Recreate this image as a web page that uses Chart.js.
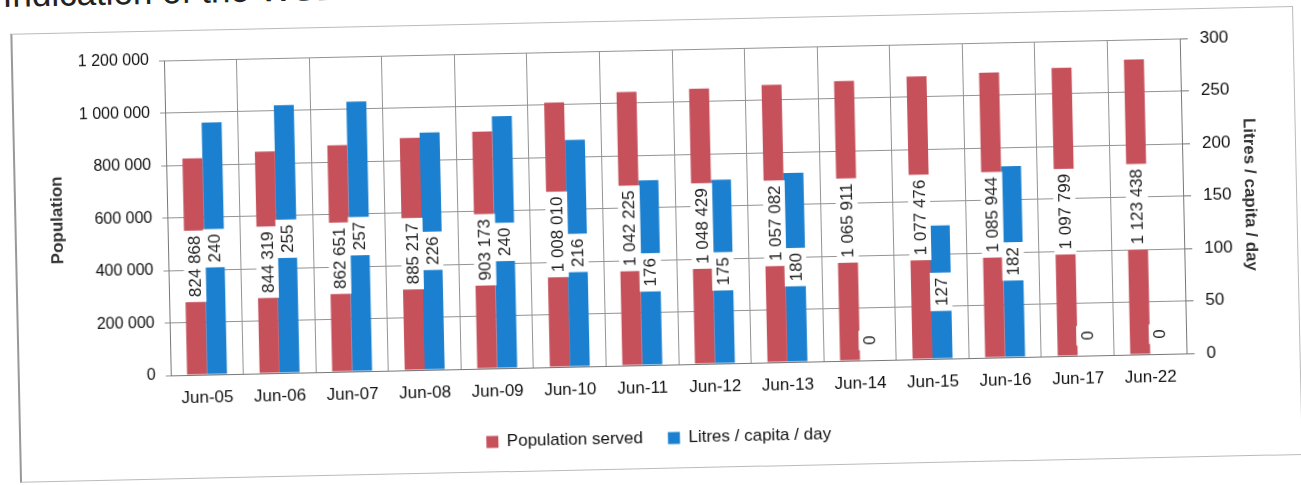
<!DOCTYPE html>
<html>
<head>
<meta charset="utf-8">
<script src="https://cdn.jsdelivr.net/npm/chart.js@4.4.1/dist/chart.umd.min.js"></script>
<style>
  html, body { margin: 0; padding: 0; background: #fff; overflow: hidden; }
  #page { position: absolute; left: 0; top: 0; width: 1301px; height: 485px; transform: rotate(-1.24deg); transform-origin: 650px 242px; }
  #heading { position: absolute; left: 8px; top: -39px; font: 35px "Liberation Sans", Arial, sans-serif; color: #222; white-space: nowrap; }
  #frame { position: absolute; left: 15px; top: 20px; width: 1280px; height: 447px; border: 1px solid #bbb; border-left: 2px solid #999; }
  #chart { position: absolute; left: 0; top: 0; }
</style>
</head>
<body>
<div id="page">
  <div id="heading">Indication of the WSDP</div>
  <div id="frame"></div>
  <canvas id="chart" width="1301" height="485"></canvas>
</div>
<script>
const months = ['Jun-05', 'Jun-06', 'Jun-07', 'Jun-08', 'Jun-09', 'Jun-10', 'Jun-11',
                'Jun-12', 'Jun-13', 'Jun-14', 'Jun-15', 'Jun-16', 'Jun-17', 'Jun-22'];
const populationServed = [824868, 844319, 862651, 885217, 903173, 1008010, 1042225,
                          1048429, 1057082, 1065911, 1077476, 1085944, 1097799, 1123438];
const litresPerCapita = [240, 255, 257, 226, 240, 216, 176, 175, 180, 0, 127, 182, 0, 0];

const popTicks = [0, 200000, 400000, 600000, 800000, 1000000, 1200000];
const litreTicks = [0, 50, 100, 150, 200, 250, 300];

const RED = '#c6515b';
const BLUE = '#1b80cf';
const SANS = '"Liberation Sans", Arial, sans-serif';

function spaced(v) {
    return String(v).replace(/\B(?=(\d{3})+(?!\d))/g, ' ');
}

// rotated value labels sitting on a white box in the middle of each bar
const barLabels = {
    id: 'barLabels',
    afterDatasetsDraw(chart) {
        const ctx = chart.ctx;
        ctx.save();
        ctx.font = '17px ' + SANS;
        ctx.textAlign = 'center';
        ctx.textBaseline = 'middle';
        chart.data.datasets.forEach((ds, di) => {
            const meta = chart.getDatasetMeta(di);
            meta.data.forEach((bar, i) => {
                const v = ds.data[i];
                const txt = spaced(v);
                const w = ctx.measureText(txt).width + 10;
                let cy = (bar.y + bar.base) / 2;
                if (v === 0) cy = bar.base - 20;
                ctx.save();
                ctx.translate(bar.x, cy);
                ctx.rotate(-Math.PI / 2);
                ctx.fillStyle = '#fff';
                ctx.fillRect(-w / 2, -11, w, 22);
                ctx.fillStyle = '#222';
                ctx.fillText(txt, 0, 1);
                ctx.restore();
            });
        });
        ctx.restore();
    },
};

new Chart(document.getElementById('chart'), {
    type: 'bar',
    data: {
        labels: months,
        datasets: [
            { label: 'Population served', data: populationServed, backgroundColor: RED, yAxisID: 'y', barPercentage: 1, categoryPercentage: 0.55 },
            { label: 'Litres / capita / day', data: litresPerCapita, backgroundColor: BLUE, yAxisID: 'y1', barPercentage: 1, categoryPercentage: 0.55 },
        ],
    },
    options: {
        responsive: false,
        animation: false,
        layout: { padding: { left: 48, right: 40, top: 50, bottom: 28 } },
        plugins: {
            legend: {
                position: 'bottom',
                labels: { boxWidth: 12, boxHeight: 12, padding: 25, color: '#111', font: { family: SANS, size: 17 } },
            },
            tooltip: { enabled: false },
        },
        scales: {
            x: {
                grid: { color: '#939393', drawTicks: false, offset: true },
                border: { color: '#777' },
                ticks: { color: '#111', padding: 13, font: { family: SANS, size: 17 }, maxRotation: 0, autoSkip: false },
                afterFit(scale) { scale.height = 40; },
            },
            y: {
                position: 'left',
                min: 0, max: 1200000,
                afterBuildTicks(scale) { scale.ticks = popTicks.map(v => ({ value: v })); },
                grid: { color: '#939393', tickLength: 5 },
                border: { color: '#777' },
                ticks: { color: '#111', padding: 10, font: { family: SANS, size: 16 }, callback: v => spaced(v) },
                title: { display: true, text: 'Population', color: '#333', font: { family: SANS, size: 17, weight: 'bold' }, padding: 0 },
                afterFit(scale) { scale.width = 120; },
            },
            y1: {
                position: 'right',
                min: 0, max: 300,
                afterBuildTicks(scale) { scale.ticks = litreTicks.map(v => ({ value: v })); },
                grid: { drawOnChartArea: false, color: '#777', tickLength: 8 },
                border: { color: '#777' },
                ticks: { color: '#111', padding: 12, font: { family: SANS, size: 17 } },
                title: { display: true, text: 'Litres / capita / day', color: '#333', font: { family: SANS, size: 17, weight: 'bold' }, padding: 0 },
                afterFit(scale) { scale.width = 77; },
            },
        },
    },
    plugins: [barLabels],
});
</script>
</body>
</html>
